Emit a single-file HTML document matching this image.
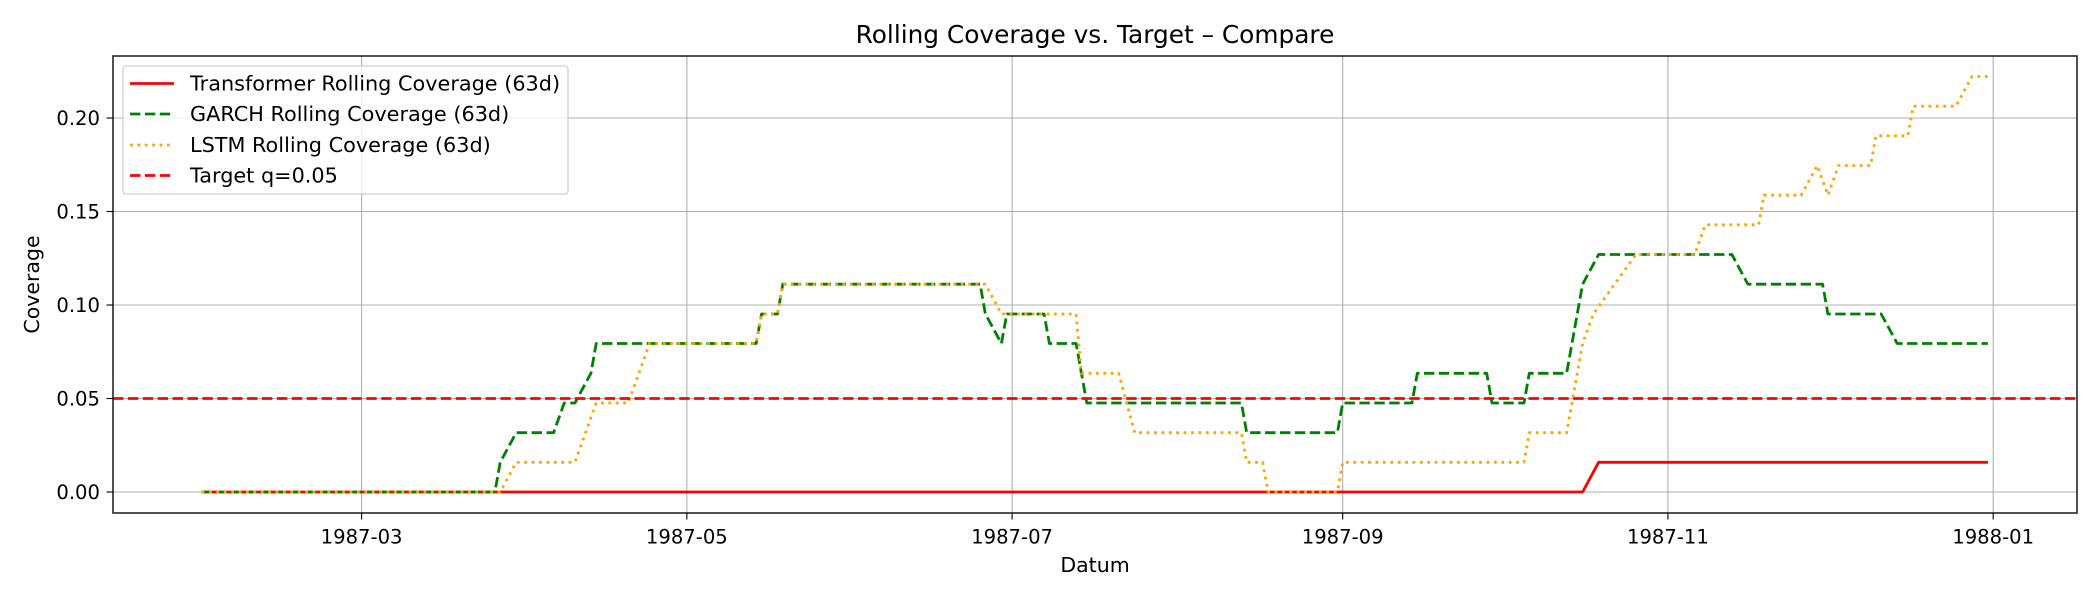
<!DOCTYPE html>
<html><head><meta charset="utf-8"><style>
html,body{margin:0;padding:0;background:#fff;}
svg text{font-family:"DejaVu Sans","Liberation Sans",sans-serif;fill:#000;}
</style></head><body>
<svg id="chart" width="2100" height="600" viewBox="0 0 2100 600" xmlns="http://www.w3.org/2000/svg">
<rect width="2100" height="600" fill="#fff"/>
<text x="1095" y="43" font-size="24.8" text-anchor="middle">Rolling Coverage vs. Target – Compare</text>
<g id="grid"></g>
<g id="series"></g>
<rect x="113" y="56" width="1964" height="457" fill="none" stroke="#262626" stroke-width="1.6"/>
<g id="ticks"></g>
<text x="1095" y="572" font-size="20.5" text-anchor="middle">Datum</text>
<text transform="translate(39,284.5) rotate(-90)" font-size="20.5" text-anchor="middle">Coverage</text>
<g id="legend">
<rect x="123" y="66" width="445" height="128" rx="3" fill="#fff" fill-opacity="0.8" stroke="#d0d0d0" stroke-width="1.3"/>
<line x1="130" y1="83.5" x2="174" y2="83.5" stroke="#ff0000" stroke-width="2.8"/>
<text x="190" y="90.5" font-size="20.8">Transformer Rolling Coverage (63d)</text>
<line x1="130" y1="114" x2="174" y2="114" stroke="#008000" stroke-width="2.8" stroke-dasharray="10.4 4.5"/>
<text x="190" y="121" font-size="20.8">GARCH Rolling Coverage (63d)</text>
<line x1="130" y1="145" x2="174" y2="145" stroke="#ffa500" stroke-width="2.8" stroke-dasharray="2.8 4.6"/>
<text x="190" y="152" font-size="20.8">LSTM Rolling Coverage (63d)</text>
<line x1="130" y1="175.5" x2="174" y2="175.5" stroke="#ff0000" stroke-width="2.8" stroke-dasharray="10.4 4.5"/>
<text x="190" y="182.5" font-size="20.8">Target q=0.05</text>
</g>
</svg>
<script>
const xTickLabels = ['1987-03','1987-05','1987-07','1987-09','1987-11','1988-01'];
const yTickValues = [0.00,0.05,0.10,0.15,0.20];
const target = 0.05;
const transformerDates = ['1987-01-30','1987-10-16','1987-10-19','1987-12-31'];
const transformerValues = [0,0,0.0159,0.0159];
const garchDates = ['1987-01-30','1987-03-26','1987-03-27','1987-03-30','1987-04-06','1987-04-08','1987-04-10','1987-04-13','1987-04-14','1987-05-14','1987-05-15','1987-05-18','1987-05-19','1987-06-25','1987-06-26','1987-06-29','1987-06-30','1987-07-07','1987-07-08','1987-07-13','1987-07-15','1987-08-13','1987-08-14','1987-08-31','1987-09-01','1987-09-14','1987-09-15','1987-09-28','1987-09-29','1987-10-05','1987-10-06','1987-10-13','1987-10-16','1987-10-19','1987-11-13','1987-11-16','1987-11-30','1987-12-01','1987-12-11','1987-12-14','1987-12-31'];
const garchValues = [0,0,0.0159,0.0317,0.0317,0.0476,0.0476,0.0635,0.0794,0.0794,0.0952,0.0952,0.1111,0.1111,0.0952,0.0794,0.0952,0.0952,0.0794,0.0794,0.0476,0.0476,0.0317,0.0317,0.0476,0.0476,0.0635,0.0635,0.0476,0.0476,0.0635,0.0635,0.1111,0.1270,0.1270,0.1111,0.1111,0.0952,0.0952,0.0794,0.0794];
const lstmDates = ['1987-01-30','1987-03-27','1987-03-30','1987-04-10','1987-04-14','1987-04-20','1987-04-22','1987-04-24','1987-05-14','1987-05-15','1987-05-18','1987-05-19','1987-06-26','1987-06-29','1987-07-13','1987-07-14','1987-07-21','1987-07-24','1987-08-13','1987-08-14','1987-08-17','1987-08-18','1987-08-31','1987-09-01','1987-10-05','1987-10-06','1987-10-13','1987-10-16','1987-10-18','1987-10-22','1987-10-26','1987-11-06','1987-11-08','1987-11-18','1987-11-19','1987-11-26','1987-11-29','1987-12-01','1987-12-03','1987-12-09','1987-12-10','1987-12-16','1987-12-17','1987-12-25','1987-12-28','1987-12-31'];
const lstmValues = [0,0,0.0159,0.0159,0.0476,0.0476,0.0635,0.0794,0.0794,0.0952,0.0952,0.1111,0.1111,0.0952,0.0952,0.0635,0.0635,0.0317,0.0317,0.0159,0.0159,0,0,0.0159,0.0159,0.0317,0.0317,0.0794,0.0952,0.1111,0.1270,0.1270,0.1429,0.1429,0.1587,0.1587,0.1746,0.1587,0.1746,0.1746,0.1905,0.1905,0.2063,0.2063,0.2222,0.2222];

const NS='http://www.w3.org/2000/svg';
const X0=113, X1=2077, Y0=56, Y1=513;
const origin=Date.UTC(1987,2,1), pxPerDay=5.332, xAt0=361.6;
function xScale(d){const p=d.split('-').map(Number);const t=Date.UTC(p[0],p[1]-1,p[2]||1);return xAt0+(t-origin)/86400000*pxPerDay;}
function yScale(v){return 492 - v*1870;}
function mk(tag,attrs,parent){const e=document.createElementNS(NS,tag);for(const k in attrs)e.setAttribute(k,attrs[k]);parent.appendChild(e);return e;}
const grid=document.getElementById('grid'), ticks=document.getElementById('ticks'), series=document.getElementById('series');
xTickLabels.forEach(l=>{
  const x=xScale(l);
  const g=mk('line',{x1:x,x2:x,y1:Y0,y2:Y1,stroke:'#b0b0b0','stroke-width':1.1},grid);
  
  
  const t=mk('line',{x1:x,x2:x,y1:Y1,y2:Y1+6.5,stroke:'#000','stroke-width':1.1},ticks);
  
  
  const tx=mk('text',{x:x,y:543.5,'font-size':19.6,'text-anchor':'middle'},ticks);
  tx.textContent=l;
  
  
});
yTickValues.forEach(v=>{
  const y=yScale(v);
  const g=mk('line',{x1:X0,x2:X1,y1:y,y2:y,stroke:'#b0b0b0','stroke-width':1.1},grid);
  
  
  const t=mk('line',{x1:X0-6.5,x2:X0,y1:y,y2:y,stroke:'#000','stroke-width':1.1},ticks);
  
  
  const tx=mk('text',{x:X0-13,y:y+7,'font-size':19.6,'text-anchor':'end'},ticks);
  tx.textContent=v.toFixed(2);
  
  
});
function line(dates,vals,color,dash,name){
  const pts=dates.map((d,i)=>xScale(d).toFixed(1)+','+yScale(vals[i]).toFixed(1)).join(' ');
  const a={points:pts,fill:'none',stroke:color,'stroke-width':2.8,'stroke-linejoin':'round'};
  if(dash)a['stroke-dasharray']=dash;
  const p=mk('polyline',a,series);
  
  
}
line(transformerDates,transformerValues,'#ff0000',null,'transformer-line');
line(garchDates,garchValues,'#008000','10.4 4.5','garch-line');
line(lstmDates,lstmValues,'#ffa500','2.8 4.6','lstm-line');
const ty=yScale(target);
const tl=mk('line',{x1:X0,x2:X1,y1:ty,y2:ty,stroke:'#ff0000','stroke-width':2.8,'stroke-dasharray':'10.4 4.5'},series);


</script>
</body></html>
